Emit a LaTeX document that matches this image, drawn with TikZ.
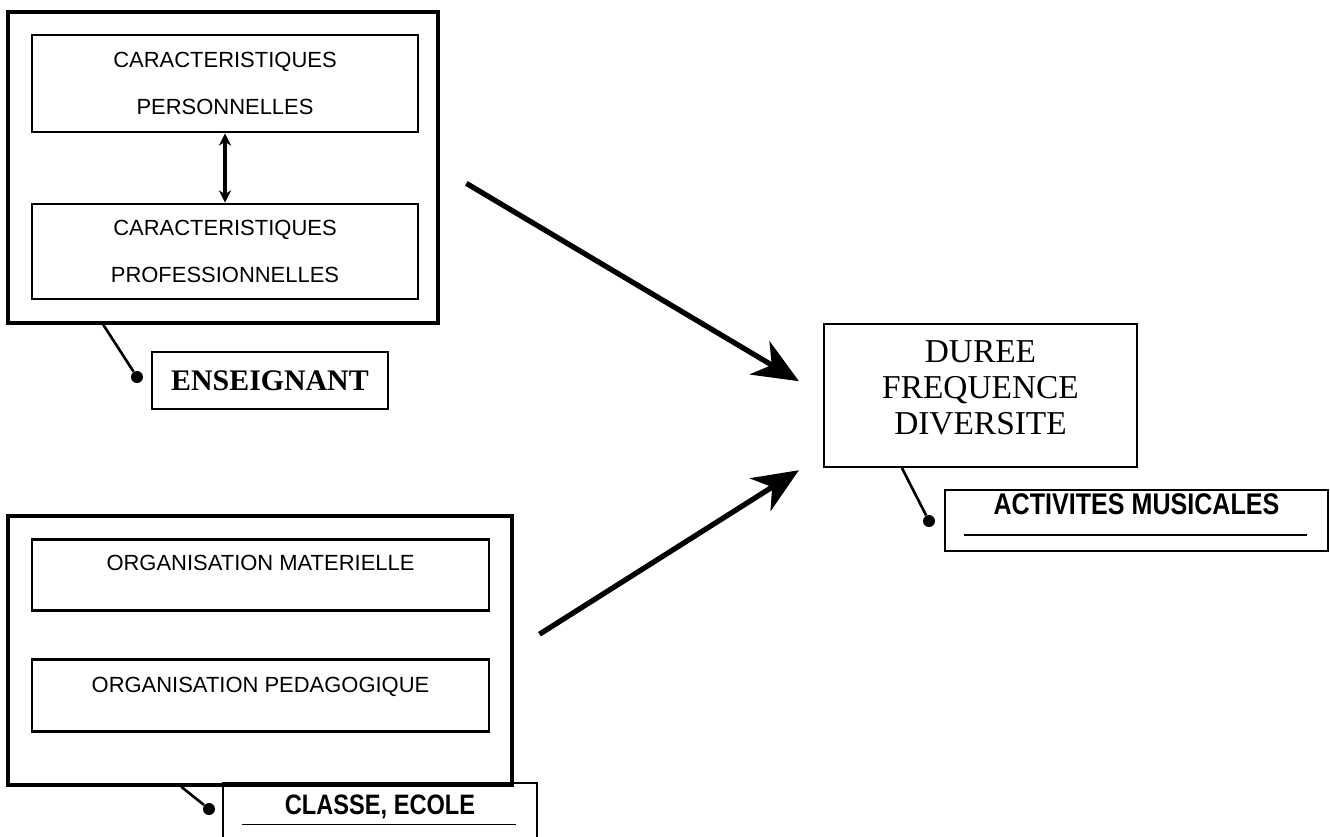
\documentclass[tikz,border=0pt]{standalone}
\usepackage{fontspec}
\setmainfont{Liberation Serif}
\newfontfamily\boxfont{Liberation Sans}
\newfontfamily\narrowfont[FakeStretch=0.84]{Liberation Sans}
\usetikzlibrary{arrows.meta}

\begin{document}
\begin{tikzpicture}[
    x=0.02cm, y=-0.02cm,
    outer/.style={rectangle, draw, line width=2pt, inner sep=0pt},
    inbox/.style={rectangle, draw, line width=1.6pt, inner sep=0pt, align=center, minimum width=7.72cm, font=\boxfont\fontsize{12.5pt}{27pt}\selectfont},
    topbox/.style={inbox, minimum width=9.14cm, minimum height=1.43cm, text depth=#1},
    result/.style={rectangle, draw, line width=1.2pt, inner sep=0pt, align=center, minimum width=6.26cm, minimum height=2.86cm, font=\fontsize{19pt}{20.5pt}\selectfont},
    tag/.style={rectangle, draw, line width=1.4pt, inner sep=0pt},
    underl/.style={path picture={\draw[line width=0.7pt] ([xshift=0.38cm, yshift=#1]path picture bounding box.south west) -- ([xshift=-0.42cm, yshift=#1]path picture bounding box.south east);}},
    dot/.style={circle, fill, inner sep=0pt, minimum size=0.24cm},
    pin/.style={line width=1.5pt},
    bigarr/.style={-{Stealth[length=26pt, width=22pt, inset=8pt]}, line width=3pt},
    dblarr/.style={{Stealth[length=7pt, width=7pt]}-{Stealth[length=7pt, width=7pt]}, line width=1.8pt}
]
\useasboundingbox (0,0) rectangle (1330,836);

% Enseignant
\node[outer, minimum width=8.6cm, minimum height=6.22cm] (teacher) at (223,167.5) {};
\node[inbox, minimum height=1.94cm] (perso) at (225,83.5) {CARACTERISTIQUES\\PERSONNELLES};
\node[inbox, minimum height=1.9cm] (profes) at (225,251.5) {CARACTERISTIQUES\\PROFESSIONNELLES};
\draw[dblarr] (perso) -- (profes);
\node[tag, minimum width=4.72cm, minimum height=1.14cm, font=\bfseries\fontsize{17pt}{20pt}\selectfont] (ens) at (270,380.5) {ENSEIGNANT};
\node[dot] (d1) at (137,377) {};
\draw[pin] ([xshift=1.94cm]teacher.south west) -- (d1);

% Classe, ecole
\node[outer, minimum width=10.08cm, minimum height=5.38cm] (class) at (260,650.5) {};
\node[topbox=13.6pt] (mater) at (260.5,575) {ORGANISATION MATERIELLE};
\node[topbox=11.9pt] (pedago) at (260.5,695.5) {ORGANISATION PEDAGOGIQUE};
\node[tag, underl=0.39cm, minimum width=6.28cm, minimum height=1.22cm, text depth=9.6pt, font=\narrowfont\bfseries\fontsize{16pt}{19pt}\selectfont] (ecole) at (380,813.5) {CLASSE, ECOLE};
\node[dot] (d3) at (209,809) {};
\draw[pin] ([xshift=3.5cm]class.south west) -- (d3);

% Activites musicales
\node[result, text depth=8.5pt] (duree) at (980.5,395.5) {DUREE\\FREQUENCE\\DIVERSITE};
\node[tag, underl=0.32cm, minimum width=7.66cm, minimum height=1.22cm, text depth=18.7pt, font=\narrowfont\bfseries\fontsize{17pt}{20pt}\selectfont] (acti) at (1136.5,520.5) {ACTIVITES MUSICALES};
\node[dot] (d2) at (929,521) {};
\draw[pin] ([xshift=1.58cm]duree.south west) -- (d2);

% Arrows
\draw[bigarr, shorten <=0.62cm, shorten >=0.56cm] (teacher.east) -- (duree.west);
\draw[bigarr, shorten <=0.61cm, shorten >=0.57cm] (class.east) -- ([yshift=-1.19cm]duree.west);

\end{tikzpicture}
\end{document}
